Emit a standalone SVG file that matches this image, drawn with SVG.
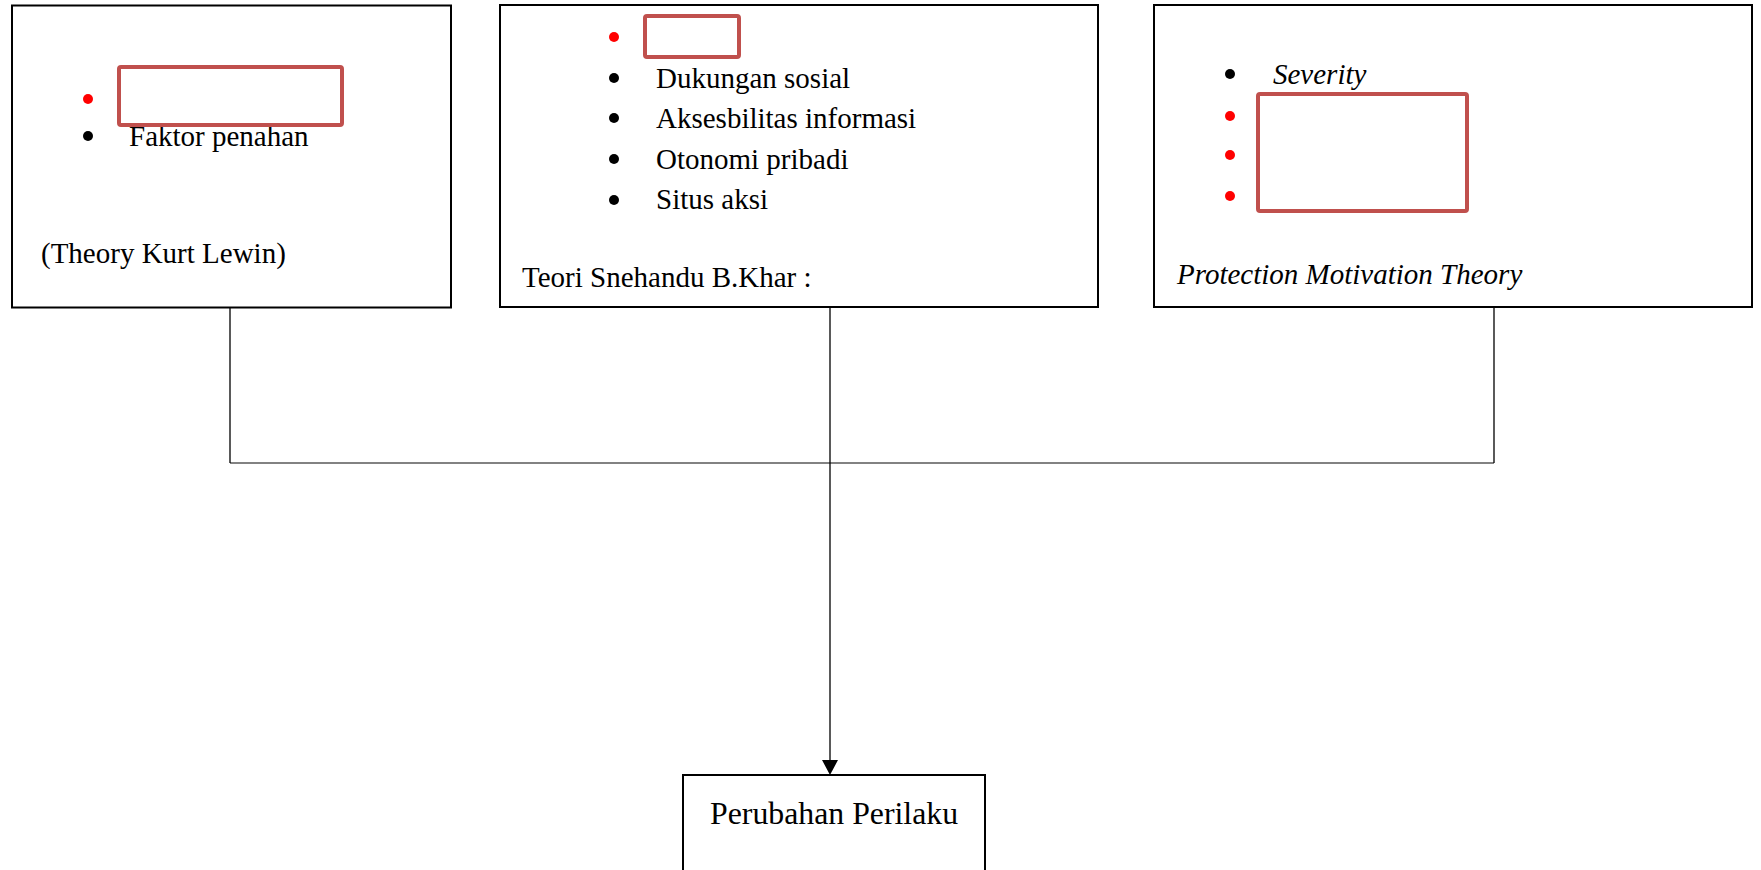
<svg xmlns="http://www.w3.org/2000/svg" width="1761" height="870" viewBox="0 0 1761 870">
<style>
.box{fill:#fff;stroke:#000;stroke-width:2}
.t{font-family:"Liberation Serif","Times New Roman",serif;font-size:29px;fill:#000}
.i{font-style:italic}
.big{font-size:31.8px}
.red{fill:none;stroke:#c0504d;stroke-width:4}
.rb{fill:#ff0000}
.bb{fill:#000}
.v{stroke:#000;stroke-width:1.3;fill:none}
.h{stroke:#595959;stroke-width:1.6;fill:none}
</style>
<rect width="1761" height="870" fill="#fff"/>
<g id="connectors">
<line class="h" x1="230" y1="463" x2="1494" y2="463"/>
<line class="v" x1="230" y1="308" x2="230" y2="463"/>
<line class="v" x1="1494" y1="308" x2="1494" y2="463"/>
<line class="v" x1="830" y1="308" x2="830" y2="760"/>
<path d="M822,760 L838,760 L830,775 Z" fill="#000"/>
</g>
<g id="lewin">
<rect class="box" x="12" y="5.5" width="439" height="302"/>
<circle class="rb" cx="88" cy="99" r="5"/>
<circle class="bb" cx="88" cy="136" r="5"/>
<text class="t" x="129" y="146">Faktor penahan</text>
<rect class="red" x="119" y="67" width="223" height="58" rx="2"/>
<text class="t" x="41" y="263">(Theory Kurt Lewin)</text>
</g>
<g id="snehandu">
<rect class="box" x="500" y="5" width="598" height="302"/>
<circle class="rb" cx="614" cy="37" r="5"/>
<rect class="red" x="645" y="16" width="94" height="41" rx="2"/>
<circle class="bb" cx="614" cy="78" r="5"/>
<circle class="bb" cx="614" cy="118" r="5"/>
<circle class="bb" cx="614" cy="159" r="5"/>
<circle class="bb" cx="614" cy="200" r="5"/>
<text class="t" x="656" y="88">Dukungan sosial</text>
<text class="t" x="656" y="128">Aksesbilitas informasi</text>
<text class="t" x="656" y="169">Otonomi pribadi</text>
<text class="t" x="656" y="209">Situs aksi</text>
<text class="t" x="522" y="287">Teori Snehandu B.Khar :</text>
</g>
<g id="pmt">
<rect class="box" x="1154" y="5" width="598" height="302"/>
<circle class="bb" cx="1230" cy="74" r="5"/>
<text class="t i" x="1273" y="84">Severity</text>
<circle class="rb" cx="1230" cy="116" r="5"/>
<circle class="rb" cx="1230" cy="155" r="5"/>
<circle class="rb" cx="1230" cy="196" r="5"/>
<rect class="red" x="1258" y="94" width="209" height="117" rx="2"/>
<text class="t i" x="1177" y="284">Protection Motivation Theory</text>
</g>
<g id="perubahan">
<rect class="box" x="683" y="775" width="302" height="120"/>
<text class="t big" x="710" y="824">Perubahan Perilaku</text>
</g>
</svg>
